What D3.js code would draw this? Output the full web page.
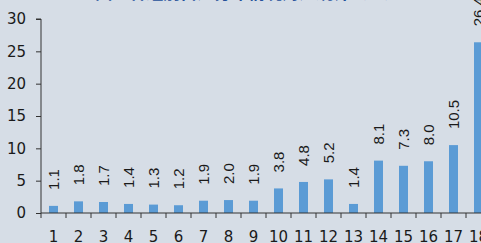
<!DOCTYPE html>
<html>
<head>
<meta charset="utf-8">
<script src="https://cdn.jsdelivr.net/npm/d3@7"></script>
<style>
  body { margin: 0; background: #d6dde6; }
  svg { display: block; }
</style>
</head>
<body>
<div id="chart"></div>
<script>
var categories = ["1","2","3","4","5","6","7","8","9","10","11","12","13","14","15","16","17","18"];
var values = [1.1, 1.8, 1.7, 1.4, 1.3, 1.2, 1.9, 2.0, 1.9, 3.8, 4.8, 5.2, 1.4, 8.1, 7.3, 8.0, 10.5, 26.4];
var yTicks = [0, 5, 10, 15, 20, 25, 30];
var title = "图：各组别占比分布情况对比统计（%）";

var svgWidth = 481;
var svgHeight = 243;

var margin = { top: 19, left: 41 };
var plotHeight = 194;
var band = 25;

var svg = d3.select("#chart")
    .append("svg")
    .attr("width", svgWidth)
    .attr("height", svgHeight);

svg.append("rect")
    .attr("width", svgWidth)
    .attr("height", svgHeight)
    .attr("fill", "#d6dde6");

// title, mostly cut off at the top
svg.append("text")
    .attr("x", 248)
    .attr("y", -1)
    .attr("text-anchor", "middle")
    .attr("font-family", "Noto Sans CJK SC")
    .attr("font-weight", "bold")
    .attr("font-size", "17px")
    .attr("fill", "#25509a")
    .text(title);

var chartGroup = svg.append("g")
    .attr("transform", `translate(${margin.left}, ${margin.top})`);

var xScale = d3.scaleBand()
    .domain(categories)
    .range([0, band * categories.length])
    .paddingInner(0.64)
    .paddingOuter(0.32);

var yScale = d3.scaleLinear()
    .domain([0, 30])
    .range([plotHeight, 0]);

chartGroup.selectAll("rect.bar")
    .data(values)
    .enter()
    .append("rect")
    .attr("class", "bar")
    .attr("x", (d, i) => xScale(categories[i]))
    .attr("y", d => yScale(d))
    .attr("width", xScale.bandwidth())
    .attr("height", d => plotHeight - yScale(d))
    .attr("fill", "#5b9bd5");

chartGroup.selectAll("text.val")
    .data(values)
    .enter()
    .append("text")
    .attr("class", "val")
    .attr("transform", (d, i) => `translate(${xScale(categories[i]) + xScale.bandwidth() / 2}, ${yScale(d) - 16}) rotate(-90)`)
    .attr("dy", "0.35em")
    .attr("font-family", "Liberation Sans")
    .attr("font-size", "15px")
    .attr("fill", "#1a1a1a")
    .text(d => d.toFixed(1));

// y axis
var yAxis = d3.axisLeft(yScale).tickValues(yTicks).tickSize(5).tickPadding(10);
var yG = chartGroup.append("g").call(yAxis);
yG.select(".domain").attr("d", `M-5,0H0V${plotHeight}`);

// x axis with ticks between bars
var xG = chartGroup.append("g").attr("transform", `translate(0, ${plotHeight})`);
xG.append("line")
    .attr("x1", 0)
    .attr("x2", band * categories.length)
    .attr("stroke", "#333");
xG.selectAll("line.tk")
    .data(d3.range(categories.length + 1))
    .enter()
    .append("line")
    .attr("class", "tk")
    .attr("x1", d => d * band)
    .attr("x2", d => d * band)
    .attr("y1", 0)
    .attr("y2", 5)
    .attr("stroke", "#333");
xG.selectAll("text")
    .data(categories)
    .enter()
    .append("text")
    .attr("x", d => xScale(d) + xScale.bandwidth() / 2)
    .attr("y", 29)
    .attr("text-anchor", "middle")
    .attr("font-family", "DejaVu Sans")
    .attr("font-size", "15px")
    .attr("fill", "#1a1a1a")
    .text(d => d);

yG.selectAll("text")
    .attr("font-family", "DejaVu Sans")
    .attr("font-size", "15px")
    .attr("fill", "#1a1a1a");
yG.selectAll("line, path").attr("stroke", "#333");
</script>
</body>
</html>
